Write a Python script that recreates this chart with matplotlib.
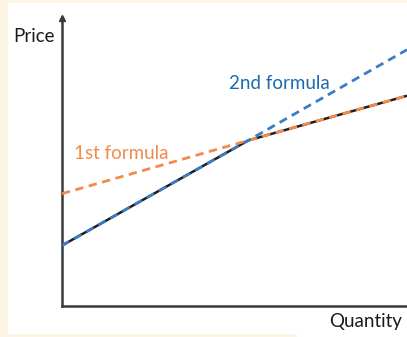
import matplotlib
matplotlib.use("Agg")
import matplotlib.pyplot as plt
from matplotlib.patches import Rectangle
import numpy as np

# Quantity break points and prices under each pricing formula
quantity = [0.0, 5.4, 10.0]
formula_1 = [3.9, 5.75, 7.3]
formula_2 = [2.1, 5.75, 8.9]
# the price actually charged: the cheaper of the two formulas
charged = list(np.minimum(formula_1, formula_2))

label_1 = "1st formula"
label_2 = "2nd formula"
x_label = "Quantity"
y_label = "Price"

W, H = 407, 337
DPI = 100
plt.rcParams['font.family'] = ['Lato', 'DejaVu Sans']

fig = plt.figure(figsize=(W / DPI, H / DPI), dpi=DPI)
fig.patch.set_facecolor('#fdf5e3')

def px(x0, y0, x1, y1):
    """Figure-fraction rectangle from pixel edges (top-left origin)."""
    return [x0 / W, 1 - y1 / H, (x1 - x0) / W, (y1 - y0) / H]

# white panel behind the chart
for x0, y0, x1, y1 in [(8, 3, W, 334), (297, 333, W, H)]:
    l, b, w, h = px(x0, y0, x1, y1)
    fig.patches.append(Rectangle((l, b), w, h, transform=fig.transFigure,
                                 facecolor='white', edgecolor='none',
                                 zorder=-1))

ax = fig.add_axes(px(62, 18, W, 306))
ax.set_facecolor('none')
ax.set_xlim(0, 10)
ax.set_ylim(0, 10)
for side in ('top', 'right'):
    ax.spines[side].set_visible(False)
for side in ('left', 'bottom'):
    ax.spines[side].set_color('#3a3a3a')
    ax.spines[side].set_linewidth(1.8)
ax.set_xticks([])
ax.set_yticks([])

# arrow head on the price axis
ax.plot([0], [10], marker='^', markersize=4, color='#3a3a3a',
        clip_on=False, zorder=5)

orange = '#f28a4c'
blue = '#3a7cc6'

ax.plot(quantity, charged, color='#1e1e1e', lw=1.8, solid_capstyle='butt',
        zorder=3, clip_on=False)
ax.plot(quantity, formula_1, color=orange, lw=2.0, ls=(0, (3, 2)),
        zorder=4, clip_on=False)
ax.plot(quantity, formula_2, color=blue, lw=2.0, ls=(0, (3, 2)),
        zorder=4, clip_on=False)

ax.text(1.71, 5.31, label_1, color=orange, fontsize=13.5,
        ha='center', va='center')
ax.text(6.29, 7.74, label_2, color='#1c69ad', fontsize=13.5,
        ha='center', va='center')

fig.text(55 / W, 1 - 36 / H, y_label, ha='right', va='center',
         fontsize=13.5, color='#1a1a1a')
fig.text(402 / W, 1 - 322 / H, x_label, ha='right', va='center',
         fontsize=13.5, color='#1a1a1a')

fig.savefig('out.png', dpi=DPI, facecolor=fig.get_facecolor())
